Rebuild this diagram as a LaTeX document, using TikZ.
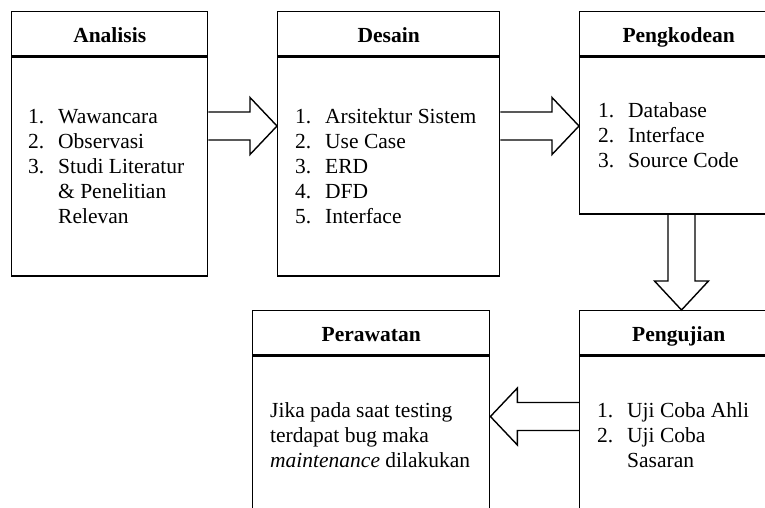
\documentclass[tikz,border=0pt]{standalone}
\usepackage{fontspec}
\setmainfont{Liberation Serif}
\usetikzlibrary{calc}
\newcommand\fs{\fontsize{21.5}{25}\selectfont}
\newcommand\itm[1]{\makebox[30pt][l]{#1}}
\tikzset{
  box/.style={draw, line width=1.4pt, inner sep=0pt, anchor=north west},
  headbox/.style={box, font=\fs\bfseries, text height=18pt, text depth=0pt, minimum height=44pt},
  bodybox/.style={box},
  txt/.style={anchor=base west, inner sep=0pt, font=\fs},
  barrow/.style={draw, line width=1.4pt, line join=miter},
}
\newcommand\harrow[3]{%
  \draw[barrow] ($(#1)+(0,-14)$) -- ($(#2)+(-27*#3,-14)$) -- ($(#2)+(-27*#3,-28.5)$) -- (#2)
    -- ($(#2)+(-27*#3,28.5)$) -- ($(#2)+(-27*#3,14)$) -- ($(#1)+(0,14)$);}
\begin{document}
\begin{tikzpicture}[x=1pt,y=-1pt]
\useasboundingbox (0,0) rectangle (765,507);
\clip (0,0) rectangle (765,507);
% Analisis
\node[headbox, minimum width=196pt] (h1) at (11,11) {Analisis};
\node[bodybox, minimum width=196pt, minimum height=219pt] (b1) at (h1.south west) {};
\node[txt] (t1) at (28,123) {\begin{tabular}[t]{@{}l@{}}
\itm{1.}Wawancara\\ \itm{2.}Observasi\\ \itm{3.}Studi Literatur\\ \itm{}\& Penelitian\\ \itm{}Relevan\end{tabular}};
% Desain
\node[headbox, minimum width=222pt] (h2) at (277,11) {Desain};
\node[bodybox, minimum width=222pt, minimum height=219pt] (b2) at (h2.south west) {};
\node[txt] (t2) at (295,123) {\begin{tabular}[t]{@{}l@{}}
\itm{1.}Arsitektur Sistem\\ \itm{2.}Use Case\\ \itm{3.}ERD\\ \itm{4.}DFD\\ \itm{5.}Interface\end{tabular}};
% Pengkodean
\node[headbox, minimum width=198pt] (h3) at (579,11) {Pengkodean};
\node[bodybox, minimum width=198pt, minimum height=157pt] (b3) at (h3.south west) {};
\node[txt] (t3) at (598,117) {\begin{tabular}[t]{@{}l@{}}
\itm{1.}Database\\ \itm{2.}Interface\\ \itm{3.}Source Code\end{tabular}};
% Pengujian
\node[headbox, minimum width=198pt] (h4) at (579,310) {Pengujian};
\node[bodybox, minimum width=198pt, minimum height=250pt] (b4) at (h4.south west) {};
\node[txt] (t4) at (597,417) {\begin{tabular}[t]{@{}l@{}}
\itm{1.}Uji Coba Ahli\\ \itm{2.}Uji Coba\\ \itm{}Sasaran\end{tabular}};
% Perawatan
\node[headbox, minimum width=237pt] (h5) at (252,310) {Perawatan};
\node[bodybox, minimum width=237pt, minimum height=250pt] (b5) at (h5.south west) {};
\node[txt] (t5) at (270,417) {\begin{tabular}[t]{@{}l@{}}
Jika pada saat testing\\ terdapat bug maka\\ \textit{maintenance} dilakukan\end{tabular}};
% arrows
\coordinate (a1s) at (b1.east |- 0,126);
\coordinate (a1t) at (b2.west |- 0,126);
\harrow{a1s}{a1t}{1}
\coordinate (a2s) at (b2.east |- 0,126);
\coordinate (a2t) at (b3.west |- 0,126);
\harrow{a2s}{a2t}{1}
\coordinate (a4s) at (b4.west |- 0,416.5);
\coordinate (a4t) at (b5.east |- 0,416.5);
\harrow{a4s}{a4t}{-1}
\coordinate (a3s) at (b3.south -| 681.5,0);
\coordinate (a3t) at (h4.north -| 681.5,0);
\draw[barrow] ($(a3s)+(-13.5,0)$) -- ($(a3t)+(-13.5,-29)$) -- ($(a3t)+(-27,-29)$) -- (a3t)
  -- ($(a3t)+(27,-29)$) -- ($(a3t)+(13.5,-29)$) -- ($(a3s)+(13.5,0)$);
\end{tikzpicture}
\end{document}
